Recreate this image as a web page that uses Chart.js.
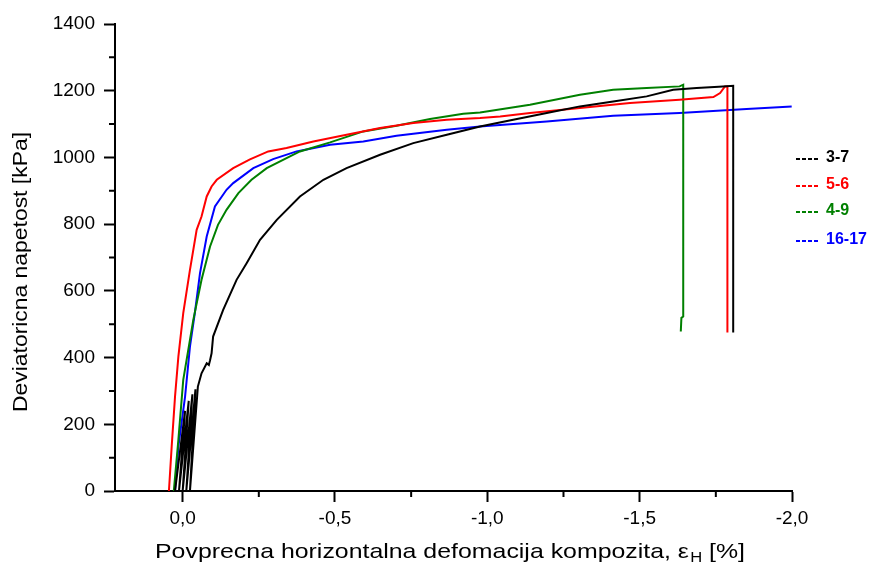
<!DOCTYPE html>
<html lang="sl">
<head>
  <meta charset="UTF-8">
  <meta name="viewport" content="width=device-width, initial-scale=1.0">
  <title>Deviatoricna napetost</title>
  <style>
    html, body { margin: 0; padding: 0; background: #fff; }
  </style>
</head>
<body>
  <canvas id="myChart" width="875" height="567"></canvas>
  <script src="https://cdn.jsdelivr.net/npm/chart.js"></script>
  <script>
    // values: horizontal strain [%] and deviatoric stress [kPa]
    // 3-7 starts with a few unload/reload loops near zero strain
    const strain37 = [0.025, -0.008, 0.012, -0.020, 0.000, -0.032, -0.012, -0.042, -0.024, -0.050,
      -0.062, -0.079, -0.086, -0.090, -0.095, -0.100, -0.133, -0.177, -0.210, -0.254, -0.309, -0.385,
      -0.462, -0.538, -0.648, -0.757, -0.867, -0.976, -1.085, -1.195, -1.304, -1.413, -1.523, -1.610,
      -1.687, -1.760, -1.807, -1.807];
    const stress37 = [0, 240, 0, 270, 0, 290, 0, 305, 0, 313,
      353, 383, 378, 392, 413, 463, 543, 633, 683, 753, 813, 883,
      933, 968, 1008, 1043, 1068, 1093, 1113, 1133, 1153, 1168, 1183, 1203,
      1208, 1212, 1215, 475];

    const strain56 = [0.045, 0.036, 0.025, 0.014, -0.002, -0.024, -0.046, -0.062, -0.079, -0.095, -0.112,
      -0.166, -0.221, -0.281, -0.341, -0.429, -0.538, -0.648, -0.757, -0.867, -0.976, -1.042, -1.140,
      -1.304, -1.468, -1.631, -1.742, -1.764, -1.780, -1.788, -1.788];
    const stress56 = [0, 133, 283, 403, 533, 663, 783, 823, 883, 913, 933,
      968, 994, 1018, 1028, 1048, 1068, 1088, 1103, 1113, 1118, 1123, 1133,
      1148, 1163, 1173, 1181, 1193, 1213, 1213, 475];

    const strain49 = [0.029, 0.014, -0.002, -0.035, -0.062, -0.090, -0.116, -0.144, -0.183, -0.226,
      -0.276, -0.341, -0.385, -0.484, -0.593, -0.702, -0.812, -0.921, -0.976, -1.140, -1.304, -1.413,
      -1.523, -1.631, -1.643, -1.643, -1.637, -1.635];
    const stress49 = [0, 153, 333, 513, 633, 733, 798, 843, 893, 933,
      968, 998, 1018, 1045, 1078, 1095, 1115, 1131, 1135, 1158, 1188, 1203,
      1208, 1213, 1218, 523, 519, 478];

    const strain1617 = [0.025, 0.014, -0.008, -0.024, -0.040, -0.057, -0.079, -0.106, -0.144, -0.166,
      -0.232, -0.297, -0.374, -0.484, -0.593, -0.702, -0.867, -0.976, -1.195, -1.413, -1.631, -1.851, -1.999];
    const stress1617 = [0, 133, 283, 433, 533, 653, 763, 853, 903, 923,
      968, 995, 1018, 1038, 1048, 1065, 1083, 1093, 1108, 1125, 1133, 1145, 1153];

    const seriesNames = ['3-7', '5-6', '4-9', '16-17'];
    const seriesColors = ['#000000', '#ff0000', '#008000', '#0000ff'];
    const xMinor = [-0.25, -0.75, -1.25, -1.75];
    const yMinor = [100, 300, 500, 700, 900, 1100, 1300];

    const xTitle = 'Povprecna horizontalna defomacija kompozita, ε';
    const xTitleSub = 'H';
    const xTitleTail = ' [%]';
    const yTitle = 'Deviatoricna napetost [kPa]';

    const toPoints = (xs, ys) => xs.map((x, i) => ({ x: x, y: ys[i] }));
    const curves = [
      toPoints(strain37, stress37),
      toPoints(strain56, stress56),
      toPoints(strain49, stress49),
      toPoints(strain1617, stress1617)
    ];

    const font = '"Liberation Sans", Arial, sans-serif';

    // small ticks between the labelled ones
    const minorTicks = {
      id: 'minorTicks',
      afterDraw(chart) {
        const { ctx, chartArea, scales: { x, y } } = chart;
        ctx.save();
        ctx.strokeStyle = '#000';
        ctx.lineWidth = 2;
        ctx.beginPath();
        yMinor.forEach(v => {
          const p = y.getPixelForValue(v);
          ctx.moveTo(chartArea.left - 6, p);
          ctx.lineTo(chartArea.left, p);
        });
        xMinor.forEach(v => {
          const p = x.getPixelForValue(v);
          ctx.moveTo(p, chartArea.bottom);
          ctx.lineTo(p, chartArea.bottom + 6);
        });
        ctx.stroke();
        ctx.restore();
      }
    };

    // axis titles, drawn by hand because of the subscript; text is a bit wider than Arial
    const axisTitles = {
      id: 'axisTitles',
      afterDraw(chart) {
        const ctx = chart.ctx;
        const big = '21px ' + font;
        const small = '14px ' + font;
        ctx.save();
        ctx.fillStyle = '#000';
        ctx.textBaseline = 'alphabetic';
        ctx.textAlign = 'left';
        ctx.font = big;
        const w1 = ctx.measureText(xTitle).width;
        const w3 = ctx.measureText(xTitleTail).width;
        ctx.font = small;
        const w2 = ctx.measureText(xTitleSub).width + 1;
        const total = w1 + w2 + w3;
        ctx.translate(450, 558);
        ctx.scale(590 / total, 1);
        const x0 = -total / 2;
        ctx.font = big;
        ctx.fillText(xTitle, x0, 0);
        ctx.font = small;
        ctx.fillText(xTitleSub, x0 + w1 + 1, 4);
        ctx.font = big;
        ctx.fillText(xTitleTail, x0 + w1 + w2, 0);
        ctx.restore();

        ctx.save();
        ctx.fillStyle = '#000';
        ctx.font = big;
        const wy = ctx.measureText(yTitle).width;
        ctx.translate(21, 272);
        ctx.rotate(-Math.PI / 2);
        ctx.scale(280 / wy, 1);
        ctx.textAlign = 'center';
        ctx.textBaseline = 'middle';
        ctx.fillText(yTitle, 0, 0);
        ctx.restore();
      }
    };

    // legend at the right: dashed sample and coloured bold label
    const sideLegend = {
      id: 'sideLegend',
      afterDraw(chart) {
        const ctx = chart.ctx;
        const rows = [158, 185, 211, 240];
        ctx.save();
        ctx.lineWidth = 2;
        ctx.setLineDash([4, 2]);
        ctx.font = 'bold 16px ' + font;
        ctx.textBaseline = 'middle';
        seriesNames.forEach((name, i) => {
          const yy = rows[i];
          ctx.strokeStyle = seriesColors[i];
          ctx.beginPath();
          ctx.moveTo(796, yy + 1);
          ctx.lineTo(820, yy + 1);
          ctx.stroke();
          ctx.fillStyle = seriesColors[i];
          ctx.fillText(name, 826, yy);
        });
        ctx.restore();
      }
    };

    const ctx = document.getElementById('myChart');

    new Chart(ctx, {
      type: 'scatter',
      data: {
        datasets: curves.map((pts, i) => ({
          label: seriesNames[i],
          data: pts,
          showLine: true,
          borderColor: seriesColors[i],
          backgroundColor: seriesColors[i],
          borderWidth: 2,
          pointRadius: 0,
          tension: 0
        }))
      },
      options: {
        responsive: false,
        animation: false,
        layout: { padding: { top: 24, right: 83, left: 0, bottom: 0 } },
        plugins: {
          legend: { display: false },
          tooltip: { enabled: false }
        },
        scales: {
          x: {
            type: 'linear',
            min: -2.0,
            max: 0.222,
            reverse: true,
            afterFit: s => { s.height = 76; },
            border: { display: true, color: '#000', width: 2 },
            grid: { drawOnChartArea: false, tickLength: 11, tickColor: '#000', tickWidth: 2 },
            ticks: {
              stepSize: 0.5,
              includeBounds: false,
              padding: 5,
              color: '#000',
              font: { family: font, size: 19 },
              maxRotation: 0,
              callback: v => v.toFixed(1).replace('.', ',')
            }
          },
          y: {
            min: 0,
            max: 1400,
            afterFit: s => { s.width = 115; },
            border: { display: true, color: '#000', width: 2 },
            grid: { drawOnChartArea: false, tickLength: 11, tickColor: '#000', tickWidth: 2 },
            ticks: {
              stepSize: 200,
              padding: 9,
              color: '#000',
              font: { family: font, size: 19 },
              callback: v => String(v)
            }
          }
        }
      },
      plugins: [minorTicks, axisTitles, sideLegend]
    });
  </script>
</body>
</html>
